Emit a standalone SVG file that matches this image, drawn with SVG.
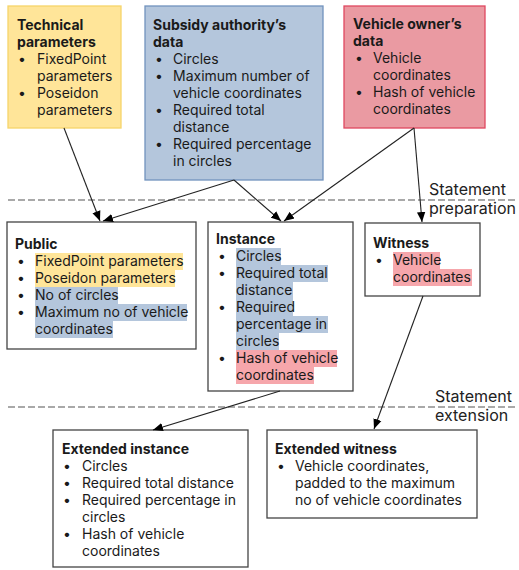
<svg xmlns="http://www.w3.org/2000/svg" width="519" height="570" viewBox="0 0 519 570">
<defs>
<marker id="ah" viewBox="0 0 10 10" refX="10" refY="5" markerWidth="10" markerHeight="10" markerUnits="userSpaceOnUse" orient="auto">
<path d="M0,0.8 L10,5 L0,9.2 Z" fill="#000"/>
</marker>
<style>
text{font-family:Inter,"Noto Sans","Liberation Sans",sans-serif;font-size:14px;fill:#1a1a1a}
.b{font-weight:bold}
.lbl{font-size:16px;fill:#222}
.box{fill:#fff;stroke:#444;stroke-width:1.3}
.yel{fill:#ffe599;stroke:#f6d56a;stroke-width:1.3}
.blu{fill:#b4c6dc;stroke:#7193bd;stroke-width:1.3}
.red{fill:#ea9aa2;stroke:#df4860;stroke-width:1.3}
.hy{fill:#ffe599}
.hb{fill:#b4c6dc}
.hr{fill:#f6a6ab}
.conn line{stroke:#222;stroke-width:1.1;marker-end:url(#ah)}
.dash{stroke:#555;stroke-width:1.1;stroke-dasharray:7 3}
</style>
</defs>
<rect width="519" height="570" fill="#fff"/>

<line class="dash" x1="8" y1="200" x2="516" y2="200"/>
<line class="dash" x1="8" y1="407" x2="516" y2="407"/>
<text class="lbl" x="429" y="195">Statement</text>
<text class="lbl" x="429" y="214">preparation</text>
<text class="lbl" x="435" y="402">Statement</text>
<text class="lbl" x="435" y="421">extension</text>

<g id="technical">
<rect class="yel" x="8" y="6" width="113" height="122"/>
<text class="b" x="17" y="30">Technical</text>
<text class="b" x="17" y="47">parameters</text>
<text x="18" y="64">•</text><text x="37" y="64">FixedPoint</text>
<text x="37" y="81">parameters</text>
<text x="18" y="98">•</text><text x="37" y="98">Poseidon</text>
<text x="37" y="115">parameters</text>
</g>

<g id="subsidy">
<rect class="blu" x="145" y="6" width="178" height="174"/>
<text class="b" x="153" y="30">Subsidy authority’s</text>
<text class="b" x="153" y="47">data</text>
<text x="155" y="64">•</text><text x="173" y="64">Circles</text>
<text x="155" y="81">•</text><text x="173" y="81">Maximum number of</text>
<text x="173" y="98">vehicle coordinates</text>
<text x="155" y="115">•</text><text x="173" y="115">Required total</text>
<text x="173" y="132">distance</text>
<text x="155" y="149">•</text><text x="173" y="149">Required percentage</text>
<text x="173" y="166">in circles</text>
</g>

<g id="owner">
<rect class="red" x="344" y="6" width="141" height="122"/>
<text class="b" x="353" y="29">Vehicle owner’s</text>
<text class="b" x="353" y="46">data</text>
<text x="355" y="63">•</text><text x="373" y="63">Vehicle</text>
<text x="373" y="80">coordinates</text>
<text x="355" y="97">•</text><text x="373" y="97">Hash of vehicle</text>
<text x="373" y="114">coordinates</text>
</g>

<g id="public">
<rect class="box" x="7" y="222" width="189" height="127"/>
<rect class="hy" x="35" y="253" width="148" height="17"/>
<rect class="hy" x="35" y="270" width="140" height="17"/>
<rect class="hb" x="35" y="287" width="83" height="17"/>
<rect class="hb" x="35" y="304" width="152" height="17"/>
<rect class="hb" x="35" y="321" width="78" height="17"/>
<text class="b" x="15" y="249">Public</text>
<text x="17" y="266">•</text><text x="35" y="266">FixedPoint parameters</text>
<text x="17" y="283">•</text><text x="35" y="283">Poseidon parameters</text>
<text x="17" y="300">•</text><text x="35" y="300">No of circles</text>
<text x="17" y="317">•</text><text x="35" y="317">Maximum no of vehicle</text>
<text x="35" y="334">coordinates</text>
</g>

<g id="instance">
<rect class="box" x="208" y="222" width="145" height="169"/>
<rect class="hb" x="236" y="248" width="45" height="17"/>
<rect class="hb" x="236" y="265" width="92" height="17"/>
<rect class="hb" x="236" y="282" width="57" height="17"/>
<rect class="hb" x="236" y="299" width="57" height="17"/>
<rect class="hb" x="236" y="316" width="92" height="17"/>
<rect class="hb" x="236" y="333" width="43" height="17"/>
<rect class="hr" x="236" y="350" width="101" height="17"/>
<rect class="hr" x="236" y="367" width="78" height="17"/>
<text class="b" x="216" y="244">Instance</text>
<text x="218" y="261">•</text><text x="236" y="261">Circles</text>
<text x="218" y="278">•</text><text x="236" y="278">Required total</text>
<text x="236" y="295">distance</text>
<text x="218" y="312">•</text><text x="236" y="312">Required</text>
<text x="236" y="329">percentage in</text>
<text x="236" y="346">circles</text>
<text x="218" y="363">•</text><text x="236" y="363">Hash of vehicle</text>
<text x="236" y="380">coordinates</text>
</g>

<g id="witness">
<rect class="box" x="365" y="223" width="115" height="73"/>
<rect class="hr" x="393" y="252" width="47" height="17"/>
<rect class="hr" x="393" y="269" width="79" height="17"/>
<text class="b" x="373" y="248">Witness</text>
<text x="375" y="265">•</text><text x="393" y="265">Vehicle</text>
<text x="393" y="282">coordinates</text>
</g>

<g id="ext-instance">
<rect class="box" x="53" y="430" width="195" height="137"/>
<text class="b" x="62" y="454">Extended instance</text>
<text x="63" y="471">•</text><text x="82" y="471">Circles</text>
<text x="63" y="488">•</text><text x="82" y="488">Required total distance</text>
<text x="63" y="505">•</text><text x="82" y="505">Required percentage in</text>
<text x="82" y="522">circles</text>
<text x="63" y="539">•</text><text x="82" y="539">Hash of vehicle</text>
<text x="82" y="556">coordinates</text>
</g>

<g id="ext-witness">
<rect class="box" x="267" y="430" width="210" height="88"/>
<text class="b" x="275" y="454">Extended witness</text>
<text x="277" y="471">•</text><text x="295" y="471">Vehicle coordinates,</text>
<text x="295" y="488">padded to the maximum</text>
<text x="295" y="505">no of vehicle coordinates</text>
</g>

<g id="connectors" class="conn">
<line x1="64" y1="128" x2="100" y2="221"/>
<line x1="234" y1="180" x2="103" y2="221"/>
<line x1="234" y1="180" x2="281" y2="221"/>
<line x1="414" y1="128" x2="284" y2="221"/>
<line x1="414" y1="128" x2="422" y2="222"/>
<line x1="280" y1="391" x2="153" y2="430"/>
<line x1="423" y1="296" x2="374" y2="429"/>
</g>
</svg>
